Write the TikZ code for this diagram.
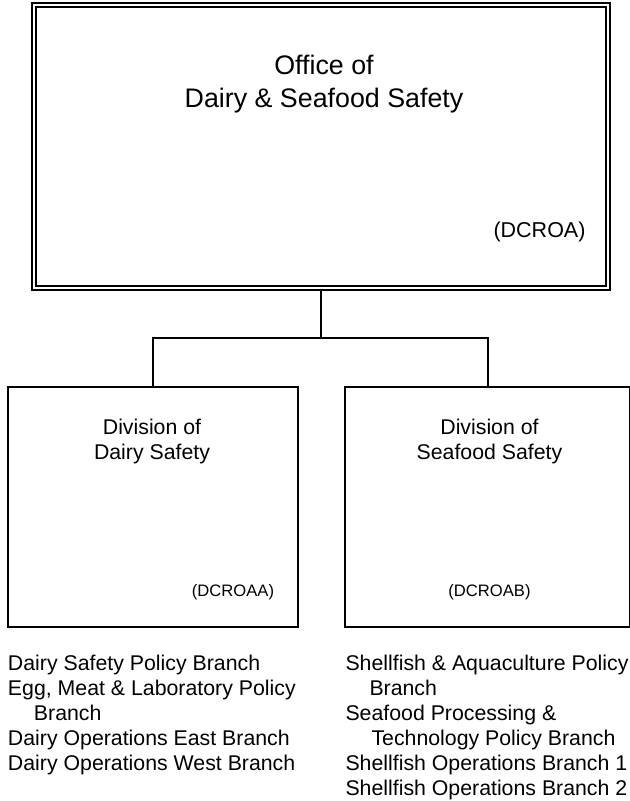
\documentclass[tikz,border=0pt]{standalone}
\usepackage{fontspec}
\setmainfont{Liberation Sans}

\begin{document}
\begin{tikzpicture}[x=0.5pt, y=-0.5pt, line width=1pt,
  unit/.style={draw, inner sep=0pt, rectangle},
  label/.style={inner sep=0pt, align=center},
  code/.style={inner sep=0pt, font=\fontsize{8.3}{10}\selectfont},
  branches/.style={inner sep=0pt, align=left, anchor=north west, font=\fontsize{10.65}{12.5}\selectfont}]
\useasboundingbox (0, 0) rectangle (630, 801);
%Depth 0
\node[unit, double, double distance=1pt, minimum width=287.15pt, minimum height=141.4pt] (office) at (321.2, 146.9) {};
\node[label, font=\fontsize{13.4}{16.5}\selectfont] (officetext) at (324, 84) {Office of\\Dairy \& Seafood Safety};
\node[inner sep=0pt, font=\fontsize{10.75}{13}\selectfont] (officecode) at (539.5, 232) {(DCROA)};
%Depth 1
\node[unit, minimum width=145pt, minimum height=120.25pt] (dairy) at (152.5, 506.75) {};
\node[unit, minimum width=142.5pt, minimum height=120.25pt] (seafood) at (487.5, 506.75) {};
\node[label, font=\fontsize{10.65}{12.5}\selectfont] (dairytext) at (152, 441) {Division of\\Dairy Safety};
\node[label, font=\fontsize{10.65}{12.5}\selectfont] (seafoodtext) at (489.5, 441) {Division of\\Seafood Safety};
\node[code] (dairycode) at (233, 592) {(DCROAA)};
\node[code] (seafoodcode) at (489.5, 592) {(DCROAB)};
\coordinate (bus) at (321, 338);
\draw (office.south) -- (office.south |- bus);
\draw (dairy.north) -- (dairy.north |- bus) -- (seafood.north |- bus) -- (seafood.north);
%Branches
\node[branches] (dairylist) at (7, 654) {Dairy Safety Policy Branch\\Egg, Meat \& Laboratory Policy\\\hspace*{13pt}Branch\\Dairy Operations East Branch\\Dairy Operations West Branch};
\node[branches] (seafoodlist) at (344.5, 654) {Shellfish \& Aquaculture Policy\\\hspace*{12pt}Branch\\Seafood Processing \&\\\hspace*{13pt}Technology Policy Branch\\Shellfish Operations Branch 1\\Shellfish Operations Branch 2};
\end{tikzpicture}
\end{document}
